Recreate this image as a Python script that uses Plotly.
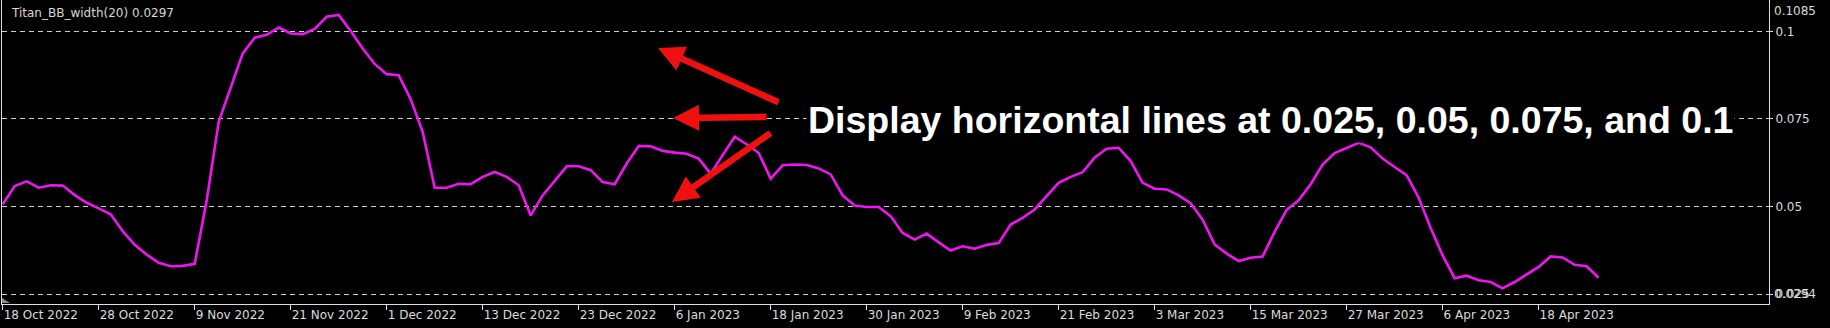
import plotly.graph_objects as go

indicator_name = "Titan_BB_width(20) 0.0297"
bb_width = [
    0.0507, 0.0559, 0.0572, 0.0554, 0.0561, 0.0560, 0.0533, 0.0511, 0.0495, 0.0478,
    0.0430, 0.0391, 0.0363, 0.0340, 0.0330, 0.0331, 0.0337, 0.0518, 0.0742, 0.0837,
    0.0937, 0.0982, 0.0990, 0.1011, 0.0994, 0.0992, 0.1007, 0.1042, 0.1047, 0.1001,
    0.0951, 0.0907, 0.0878, 0.0875, 0.0806, 0.0713, 0.0554, 0.0554, 0.0565, 0.0564,
    0.0585, 0.0599, 0.0585, 0.0561, 0.0475, 0.0532, 0.0575, 0.0615, 0.0615, 0.0604,
    0.0570, 0.0564, 0.0623, 0.0673, 0.0672, 0.0659, 0.0654, 0.0651, 0.0637, 0.0594,
    0.0647, 0.0699, 0.0678, 0.0653, 0.0580, 0.0618, 0.0620, 0.0619, 0.0609, 0.0592,
    0.0532, 0.0503, 0.0499, 0.0499, 0.0473, 0.0425, 0.0406, 0.0423, 0.0398, 0.0375,
    0.0387, 0.0380, 0.0391, 0.0396, 0.0449, 0.0468, 0.0492, 0.0530, 0.0568, 0.0585,
    0.0598, 0.0640, 0.0665, 0.0668, 0.0630, 0.0568, 0.0551, 0.0549, 0.0532, 0.0510,
    0.0463, 0.0392, 0.0366, 0.0345, 0.0354, 0.0358, 0.0428, 0.0491, 0.0518, 0.0564,
    0.0620, 0.0653, 0.0667, 0.0682, 0.0669, 0.0637, 0.0613, 0.0590, 0.0526, 0.0439,
    0.0361, 0.0296, 0.0303, 0.0290, 0.0285, 0.0267, 0.0285, 0.0307, 0.0328, 0.0358,
    0.0355, 0.0334, 0.0330, 0.0297,
]
date_tick_labels = [
    "18 Oct 2022", "28 Oct 2022", "9 Nov 2022", "21 Nov 2022", "1 Dec 2022",
    "13 Dec 2022", "23 Dec 2022", "6 Jan 2023", "18 Jan 2023", "30 Jan 2023",
    "9 Feb 2023", "21 Feb 2023", "3 Mar 2023", "15 Mar 2023", "27 Mar 2023",
    "6 Apr 2023", "18 Apr 2023",
]
bars_per_tick = 8
level_values = [0.025, 0.05, 0.075, 0.1]
level_labels = ["0.025", "0.05", "0.075", "0.1"]
scale_max_label = "0.1085"
scale_min_label = "0.0294"
note_text = "Display horizontal lines at 0.025, 0.05, 0.075, and 0.1"

W, H = 1830, 328
ML, MR, MT, MB = 2, 61, 0, 24
PW, PH = W - ML - MR, H - MT - MB

x_idx = list(range(len(bb_width)))
tickvals = [i * bars_per_tick for i in range(len(date_tick_labels))]

grey = "#dcdcdc"
font_small = dict(family="DejaVu Sans", size=12, color=grey)

fig = go.Figure()
fig.add_trace(go.Scatter(
    x=x_idx, y=bb_width, mode="lines",
    line=dict(color="#f014f0", width=2.6),
    hoverinfo="skip", showlegend=False,
))

fig.update_layout(
    width=W, height=H,
    margin=dict(l=ML, r=MR, t=MT, b=MB, pad=0),
    paper_bgcolor="black", plot_bgcolor="black",
    showlegend=False,
    xaxis=dict(
        range=[-0.06, 147.2],
        tickmode="array", tickvals=tickvals, ticktext=date_tick_labels,
        ticks="outside", ticklen=5, tickcolor="#e0e0e0", tickwidth=1,
        ticklabelposition="outside right",
        showline=True, linecolor="#e0e0e0", linewidth=1,
        showgrid=False, zeroline=False,
        tickfont=font_small,
    ),
    yaxis=dict(
        range=[0.02223, 0.10894], side="right",
        tickmode="array", tickvals=level_values, ticktext=level_labels,
        ticks="outside", ticklen=3, tickcolor="#e0e0e0",
        showline=True, linecolor="#e0e0e0", linewidth=1, mirror=True,
        showgrid=True, gridcolor="#cfcfcf", griddash="5px,4px", gridwidth=1,
        zeroline=False,
        tickfont=font_small,
    ),
)

# extra scale labels (window max / min)
fig.add_annotation(xref="paper", yref="paper", x=1, y=1, text=scale_max_label,
                   xanchor="left", yanchor="top", xshift=3, yshift=-2, showarrow=False, font=font_small)
fig.add_annotation(xref="paper", yref="y", x=1, y=0.025, text=scale_min_label,
                   xanchor="left", yanchor="middle", xshift=3, showarrow=False, font=font_small)

# indicator name
fig.add_annotation(xref="paper", yref="paper", x=7 / PW, y=1 - 13 / PH, text=indicator_name,
                   xanchor="left", yanchor="middle", showarrow=False,
                   font=dict(family="DejaVu Sans", size=12, color="#d8d8d0"))

# big note text
fig.add_annotation(xref="paper", yref="paper", x=(1270 - ML) / PW, y=1 - 120 / PH, text="<b>" + note_text + "</b>",
                   xanchor="center", yanchor="middle", showarrow=False, bgcolor="black",
                   font=dict(family="Liberation Sans", size=37.5, color="white"))

# red arrows (tip -> tail in pixels)
arrows = [((658, 48), (780, 103)), ((673, 118), (768, 117)), ((672, 202), (772, 132))]
for (tx, ty), (sx, sy) in arrows:
    fig.add_annotation(xref="paper", yref="paper",
                       x=(tx - ML) / PW, y=1 - (ty - MT) / PH,
                       ax=sx - tx, ay=sy - ty, text="", showarrow=True,
                       arrowhead=2, arrowsize=0.8, arrowwidth=6.5, arrowcolor="#f01010",
                       standoff=0, startstandoff=0)

# MT4 shift marker triangle bottom-left
fig.add_shape(type="path", xref="paper", yref="paper",
              path=f"M 0 {6/PH} L 0 {1/PH} L {8/PW} {1/PH} Z",
              fillcolor="#8a8a9a", line=dict(width=0))

fig.write_html("out.html")
